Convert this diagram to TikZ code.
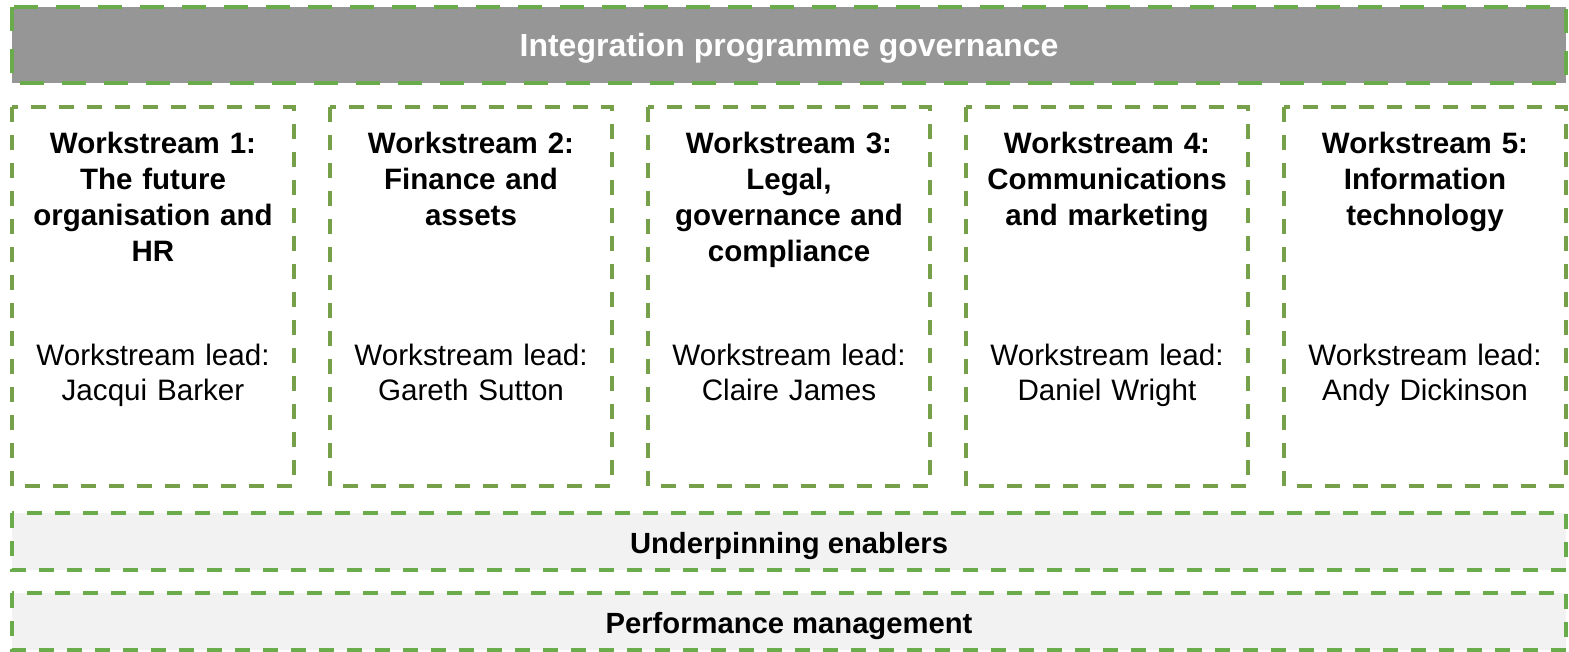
\documentclass[tikz,border=0pt]{standalone}
\usepackage{fontspec}
\setmainfont{Liberation Sans}
\definecolor{brightgreen}{HTML}{6AAB4C}
\definecolor{olivegreen}{HTML}{77A04B}
\definecolor{bargray}{HTML}{969696}
\definecolor{paleband}{HTML}{F2F2F2}
\begin{document}
\begin{tikzpicture}[x=1pt,y=-1pt,
  govbar/.style={draw=brightgreen, line width=4.5pt, dash pattern=on 24pt off 18pt, fill=bargray},
  wsbox/.style={draw=olivegreen, line width=4pt, dash pattern=on 15pt off 13pt},
  band/.style={draw=brightgreen, line width=4pt, dash pattern=on 15pt off 13pt, fill=paleband},
  wstitle/.style={anchor=north, align=center, font=\fontsize{29.5}{36}\selectfont\bfseries, text width=270pt, inner sep=0pt},
  wslead/.style={anchor=north, align=center, font=\fontsize{29.6}{35}\selectfont, text width=270pt, inner sep=0pt},
  bandtext/.style={font=\fontsize{29.2}{35}\selectfont\bfseries, inner sep=0pt}]
\useasboundingbox (0,0) rectangle (1569,651);

% governance bar
\draw[govbar] (12,7) rectangle (1566,83);
\node[bandtext, text=white, font=\fontsize{32}{38}\selectfont\bfseries] (gov) at (789,48) {Integration programme governance};

% workstream boxes
\foreach \i/\title/\lead [count=\k from 0] in {
  1/{Workstream 1:\\The future\\organisation and\\HR}/{Workstream lead:\\Jacqui Barker},
  2/{Workstream 2:\\Finance and\\assets}/{Workstream lead:\\Gareth Sutton},
  3/{Workstream 3:\\Legal,\\governance and\\compliance}/{Workstream lead:\\Claire James},
  4/{Workstream 4:\\Communications\\and marketing}/{Workstream lead:\\Daniel Wright},
  5/{Workstream 5:\\Information\\technology}/{Workstream lead:\\Andy Dickinson}}{
  \pgfmathsetmacro{\xl}{12+318*\k}
  \pgfmathsetmacro{\xc}{\xl+141}
  \draw[wsbox] (\xl,107) rectangle ++(282,379);
  \node[wstitle] (ws\i) at (\xc,132) {\title};
  \node[wslead] (lead\i) at (\xc,344) {\lead};
}

% underpinning bands
\draw[band] (12,513) rectangle (1566,570);
\node[bandtext] (enablers) at (789,546) {Underpinning enablers};
\draw[band] (12,593) rectangle (1566,650);
\node[bandtext] (perf) at (789,626) {Performance management};
\end{tikzpicture}
\end{document}
